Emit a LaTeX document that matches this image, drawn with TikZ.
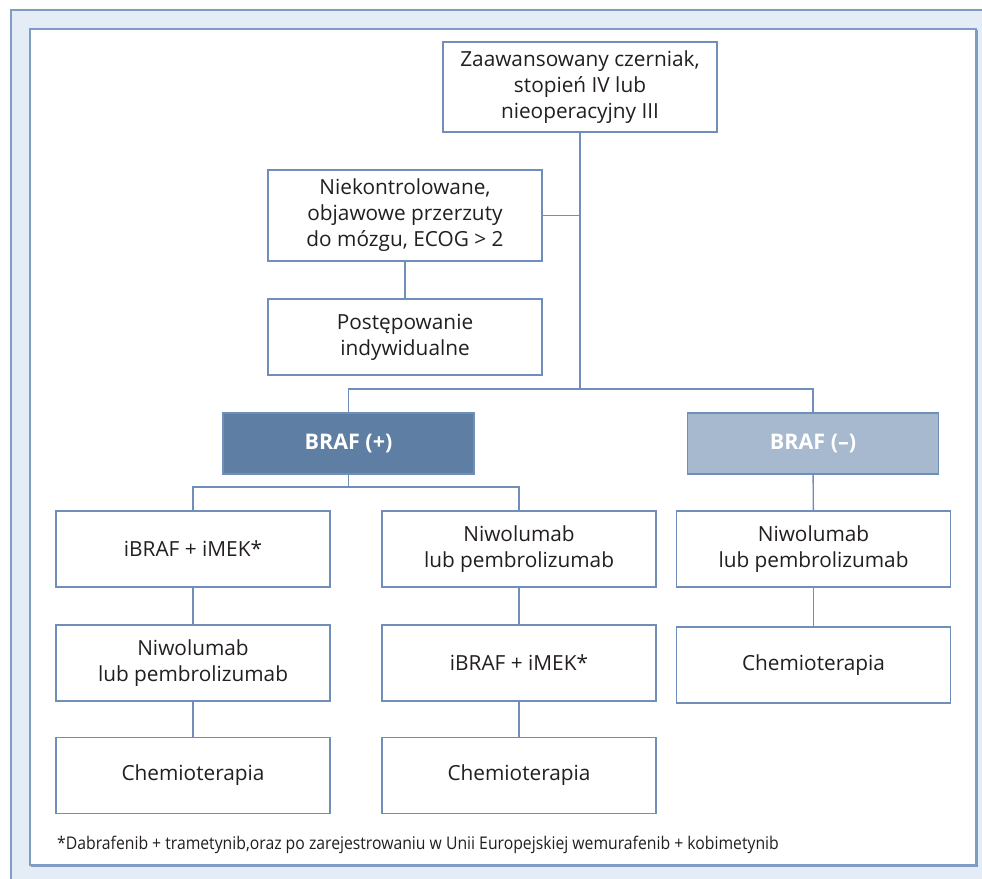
\documentclass[tikz,border=0pt]{standalone}
\usepackage{fontspec}
\setmainfont{Open Sans}
\newfontfamily\notefont[FakeStretch=0.9]{Open Sans}
\definecolor{linec}{HTML}{6F8FBA}
\definecolor{framec}{HTML}{7F9CC2}
\definecolor{bgc}{HTML}{E4EDF6}
\definecolor{txt}{HTML}{231F20}
\definecolor{posc}{HTML}{5F7EA3}
\definecolor{negc}{HTML}{A7B9CF}

\begin{document}
\begin{tikzpicture}[x=1pt,y=-1pt,
  box/.style={draw=linec,line width=1.4pt,fill=white,text=txt,align=center,
    minimum width=274pt,minimum height=76pt,inner sep=0pt,
    font=\fontsize{20.8}{26}\selectfont},
  braf/.style={box,minimum width=251pt,minimum height=61pt,text=white,
    font=\fontsize{21.5}{26}\selectfont\bfseries},
  conn/.style={draw=linec,line width=1.4pt}]
\useasboundingbox (0,0) rectangle (982,878);
\fill[bgc] (11,10) rectangle (1000,900);
\draw[framec,line width=1.6pt] (1000,10) -- (11,10) -- (11,900);
\draw[framec,fill=white,line width=1.6pt] (30,29) rectangle (976,865);
\draw[framec,line width=1.4pt] (31,866.5) -- (977.5,866.5) -- (977.5,30);
\node[box,minimum height=90pt] (start) at (580,87) {Zaawansowany czerniak,\\stopień IV lub\\nieoperacyjny III} ;
\node[box,minimum height=91pt] (brain) at (405,215.5) {Niekontrolowane,\\objawowe przerzuty\\do mózgu, ECOG > 2} ;
\node[box] (indiv) at (405,337) {Postępowanie\\indywidualne} ;
\node[braf,fill=posc] (pos) at (348.5,443.5) {BRAF (+)} ;
\node[braf,fill=negc] (neg) at (813,443.5) {BRAF (–)} ;
\node[box] (a1) at (193,549) {iBRAF + iMEK*} ;
\node[box] (a2) at (193,663) {Niwolumab\\lub pembrolizumab} ;
\node[box] (a3) at (193,775.5) {Chemioterapia} ;
\node[box] (b1) at (519,549) {Niwolumab\\lub pembrolizumab} ;
\node[box] (b2) at (519,663) {iBRAF + iMEK*} ;
\node[box] (b3) at (519,775.5) {Chemioterapia} ;
\node[box] (c1) at (813.5,549) {Niwolumab\\lub pembrolizumab} ;
\node[box] (c2) at (813.5,665) {Chemioterapia} ;
\node[anchor=west,text=txt,inner sep=0pt,font=\notefont\fontsize{17.5}{20}\selectfont] (note) at (57,845) {*Dabrafenib + trametynib,oraz po zarejestrowaniu w Unii Europejskiej wemurafenib + kobimetynib} ;
\coordinate (split) at (start.south |- 0,389) ;
\coordinate (sub) at (pos.south |- 0,487) ;
% main trunk
\draw[conn] (start) to (split) ;
\draw[conn] (brain.east) to (start.south |- brain.east) ;
\draw[conn] (brain) to (indiv) ;
\draw[conn] (pos.north) -- (pos.north |- split) -- (neg.north |- split) -- (neg.north) ;
% braf (+)
\draw[conn] (pos) to (sub) ;
\draw[conn] (a1.north) -- (a1.north |- sub) -- (b1.north |- sub) -- (b1.north) ;
\draw[conn] (a1) to (a2) ;
\draw[conn] (a2) to (a3) ;
\draw[conn] (b1) to (b2) ;
\draw[conn] (b2) to (b3) ;
% braf (-)
\draw[conn] (neg) to (c1) ;
\draw[conn] (c1) to (c2) ;
\end{tikzpicture}
\end{document}
